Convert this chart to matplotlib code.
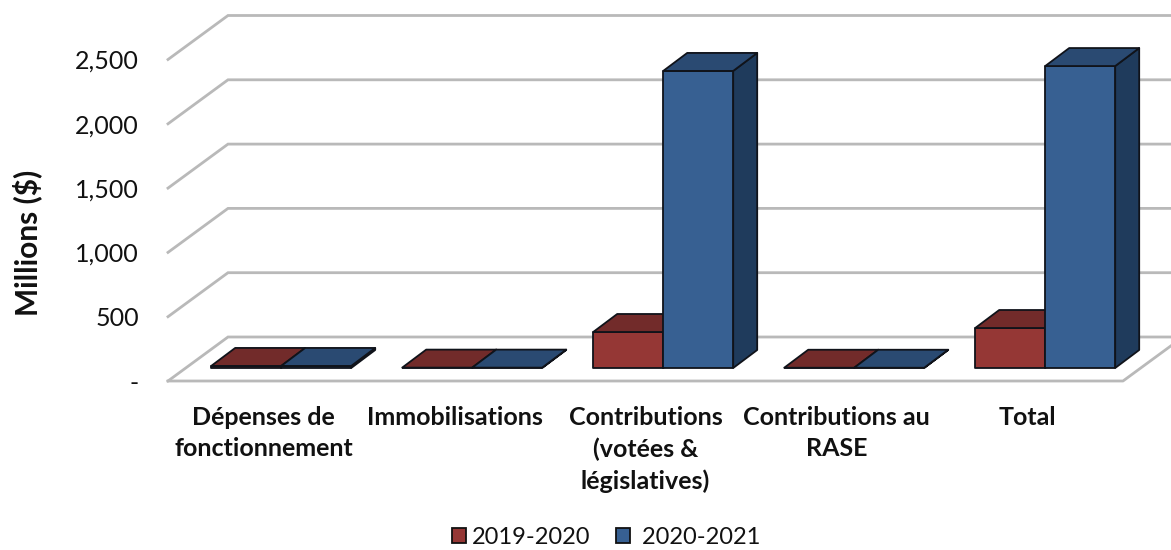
import matplotlib.pyplot as plt
from matplotlib.patches import Polygon, Patch

plt.rcParams["font.family"] = ["Lato", "DejaVu Sans"]

categories = [
    "Dépenses de\nfonctionnement",
    "Immobilisations",
    "Contributions\n(votées &\nlégislatives)",
    "Contributions au\nRASE",
    "Total",
]
values_2019 = [16, 3, 280, 2, 311]
values_2020 = [16, 3, 2310, 2, 2348]
y_ticks = [0, 500, 1000, 1500, 2000, 2500]
y_labels = ["-", "500", "1,000", "1,500", "2,000", "2,500"]
series_names = ["2019-2020", " 2020-2021"]

W, H = 1171, 550
px_x = 191.0  # pixels per category
px_y = 321.5 / 2500  # pixels per million

# depth of the floor and of the bars, in data units
floor_dx, floor_dy = 60 / px_x, 44 / px_y
bar_dx, bar_dy = 24 / px_x, 18 / px_y
base_dx, base_dy = 17.7 / px_x, 13 / px_y
bar_w = 70 / px_x

grid_col = "#b9b9b9"
edge_col = "#10131a"
red = ("#953735", "#722b2a", "#5f2322")
blue = ("#376092", "#2a4a72", "#1f3b5c")


def draw_bar(ax, x, val, cols, z):
    x0 = x + base_dx
    y0 = base_dy
    x1 = x0 + bar_w
    y1 = y0 + val
    front = [(x0, y0), (x1, y0), (x1, y1), (x0, y1)]
    top = [(x0, y1), (x1, y1), (x1 + bar_dx, y1 + bar_dy), (x0 + bar_dx, y1 + bar_dy)]
    side = [(x1, y0), (x1 + bar_dx, y0 + bar_dy), (x1 + bar_dx, y1 + bar_dy), (x1, y1)]
    for pts, c in zip([side, front, top], [cols[2], cols[0], cols[1]]):
        ax.add_patch(Polygon(pts, closed=True, facecolor=c, edgecolor=edge_col,
                             linewidth=1.3, joinstyle="round", zorder=z, clip_on=False))


fig = plt.figure(figsize=(W / 100, H / 100), dpi=100)
ax = fig.add_axes([168 / W, (H - 381) / H, 955 / W, 321.5 / H])
ax.set_xlim(-0.5, 4.5)
ax.set_ylim(0, 2500)

# walls and floor
right_edge = 4.5 + 60 / px_x
for t in y_ticks:
    ax.plot([-0.5, -0.5 + floor_dx, right_edge], [t, t + floor_dy, t + floor_dy],
            color=grid_col, lw=2, clip_on=False, zorder=1, solid_joinstyle="miter")
ax.plot([-0.5, 4.5, right_edge], [0, 0, floor_dy], color=grid_col, lw=2,
        clip_on=False, zorder=1)

# bars, left to right so the blue one sits over the red one
for i in range(len(categories)):
    draw_bar(ax, i - bar_w, values_2019[i], red, 3 + i * 2)
    draw_bar(ax, i, values_2020[i], blue, 4 + i * 2)

for s in ax.spines.values():
    s.set_visible(False)

ax.set_yticks(y_ticks)
ax.set_yticklabels(y_labels, fontsize=18, color="#111111")
ax.tick_params(axis="y", length=0, pad=21)
ax.set_xticks(range(len(categories)))
ax.set_xticklabels(categories, fontsize=18, fontweight="bold", linespacing=1.42,
                   color="#111111")
ax.tick_params(axis="x", length=0, pad=18)

ax.set_ylabel("Millions ($)", fontsize=21.5, fontweight="bold", color="#111111")
ax.yaxis.set_label_coords((42 - 168) / 955, 0.43)

handles = [
    Patch(facecolor=red[0], edgecolor="#111111", linewidth=1.3),
    Patch(facecolor=blue[0], edgecolor="#111111", linewidth=1.3),
]
fig.legend(handles, series_names, loc="center", bbox_to_anchor=(606 / W, 1 - 537 / H),
           ncol=2, frameon=False, fontsize=17, handlelength=0.6, handleheight=0.6,
           handletextpad=0.25, columnspacing=1.1, labelcolor="#111111")

fig.savefig("out.png", dpi=100)
